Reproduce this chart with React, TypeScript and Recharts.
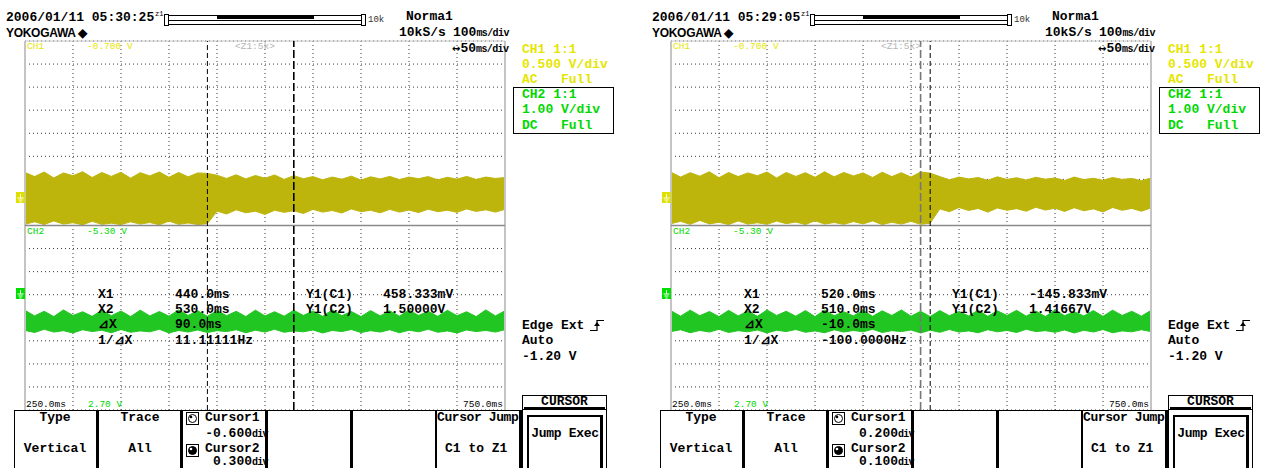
import { ComposedChart, Area, XAxis, YAxis, CartesianGrid, ReferenceLine } from 'recharts'
import type { ReactNode } from 'react'

// time base: 250 ms .. 750 ms, one sample every 10 ms (50 ms/div, 10 div)
const timeMs = [
  250, 260, 270, 280, 290, 300, 310, 320, 330, 340,
  350, 360, 370, 380, 390, 400, 410, 420, 430, 440,
  450, 460, 470, 480, 490, 500, 510, 520, 530, 540,
  550, 560, 570, 580, 590, 600, 610, 620, 630, 640,
  650, 660, 670, 680, 690, 700, 710, 720, 730, 740,
  750,
]
const gridMs = [300, 350, 400, 450, 500, 550, 600, 650, 700]
const gridDiv = [-7, -6, -5, -4, -3, -2, -1, 1, 2, 3, 4, 5, 6, 7]

// trace envelopes in screen divisions (0 = split line, +8 top, -8 bottom)
const leftCh1Hi = [
  2.30, 2.12, 2.32, 2.06, 2.28, 2.16, 2.33, 2.08, 2.30, 2.13,
  2.31, 2.05, 2.29, 2.15, 2.32, 2.09, 2.30, 2.11, 2.28, 2.26,
  2.18, 2.04, 2.20, 2.02, 2.17, 2.05, 2.19, 2.00, 2.16, 2.03,
  2.12, 1.98, 2.10, 2.01, 2.14, 1.97, 2.11, 2.02, 2.13, 1.99,
  2.10, 2.03, 2.12, 1.98, 2.09, 2.01, 2.13, 2.00, 2.10, 2.04,
  2.08,
]
const leftCh1Lo = [
  0.05, 0.16, 0.04, 0.20, 0.06, 0.12, 0.03, 0.18, 0.05, 0.10,
  0.04, 0.16, 0.06, 0.13, 0.03, 0.19, 0.05, 0.11, 0.04, 0.08,
  0.62, 0.50, 0.68, 0.55, 0.62, 0.48, 0.66, 0.57, 0.64, 0.52,
  0.70, 0.58, 0.65, 0.54, 0.72, 0.60, 0.66, 0.55, 0.70, 0.58,
  0.67, 0.56, 0.71, 0.60, 0.66, 0.57, 0.72, 0.61, 0.68, 0.58,
  0.70,
]
const leftCh2Hi = [
  -3.68, -3.92, -3.72, -3.95, -3.66, -3.90, -3.74, -3.94, -3.68, -3.91,
  -3.71, -3.95, -3.67, -3.92, -3.73, -3.93, -3.66, -3.90, -3.70, -3.94,
  -3.69, -3.91, -3.72, -3.95, -3.67, -3.92, -3.74, -3.93, -3.68, -3.90,
  -3.71, -3.94, -3.66, -3.91, -3.73, -3.95, -3.69, -3.92, -3.70, -3.93,
  -3.67, -3.90, -3.72, -3.94, -3.68, -3.91, -3.74, -3.95, -3.66, -3.92,
  -3.70,
]
const leftCh2Lo = [
  -4.55, -4.64, -4.50, -4.62, -4.56, -4.66, -4.52, -4.60, -4.54, -4.65,
  -4.51, -4.63, -4.57, -4.61, -4.50, -4.66, -4.55, -4.62, -4.53, -4.64,
  -4.56, -4.60, -4.52, -4.65, -4.54, -4.62, -4.50, -4.63, -4.57, -4.61,
  -4.53, -4.66, -4.55, -4.60, -4.51, -4.64, -4.56, -4.62, -4.52, -4.65,
  -4.54, -4.61, -4.50, -4.63, -4.57, -4.66, -4.53, -4.60, -4.55, -4.62,
  -4.52,
]
const rightCh1Hi = [
  2.31, 2.10, 2.29, 2.14, 2.33, 2.07, 2.30, 2.12, 2.28, 2.16,
  2.32, 2.06, 2.30, 2.13, 2.29, 2.09, 2.33, 2.11, 2.30, 2.15,
  2.28, 2.08, 2.31, 2.12, 2.29, 2.10, 2.32, 2.27, 2.12, 1.98,
  2.10, 2.02, 2.08, 1.96, 2.11, 2.00, 2.07, 1.97, 2.09, 2.01,
  2.06, 1.95, 2.10, 1.99, 2.05, 1.96, 2.08, 2.00, 2.04, 1.94,
  2.06,
]
const rightCh1Lo = [
  0.08, 0.18, 0.05, 0.22, 0.07, 0.14, 0.04, 0.20, 0.06, 0.12,
  0.05, 0.19, 0.08, 0.15, 0.04, 0.21, 0.06, 0.13, 0.05, 0.17,
  0.07, 0.20, 0.04, 0.14, 0.06, 0.18, 0.05, 0.10, 0.72, 0.60,
  0.78, 0.65, 0.74, 0.58, 0.76, 0.66, 0.73, 0.62, 0.79, 0.67,
  0.75, 0.61, 0.77, 0.64, 0.72, 0.59, 0.78, 0.66, 0.74, 0.62,
  0.76,
]
const rightCh2Hi = [
  -3.70, -3.93, -3.67, -3.91, -3.73, -3.95, -3.68, -3.92, -3.71, -3.94,
  -3.66, -3.90, -3.72, -3.93, -3.69, -3.95, -3.67, -3.91, -3.74, -3.92,
  -3.68, -3.94, -3.70, -3.90, -3.66, -3.93, -3.72, -3.95, -3.69, -3.91,
  -3.73, -3.92, -3.67, -3.94, -3.70, -3.90, -3.68, -3.93, -3.71, -3.95,
  -3.66, -3.91, -3.74, -3.92, -3.69, -3.94, -3.67, -3.90, -3.72, -3.93,
  -3.68,
]
const rightCh2Lo = [
  -4.60, -4.52, -4.65, -4.55, -4.62, -4.50, -4.64, -4.56, -4.61, -4.53,
  -4.66, -4.54, -4.60, -4.51, -4.63, -4.57, -4.65, -4.52, -4.62, -4.55,
  -4.61, -4.50, -4.64, -4.56, -4.60, -4.53, -4.66, -4.54, -4.63, -4.51,
  -4.62, -4.57, -4.65, -4.52, -4.61, -4.55, -4.64, -4.50, -4.60, -4.56,
  -4.63, -4.53, -4.66, -4.54, -4.62, -4.51, -4.65, -4.57, -4.61, -4.52,
  -4.60,
]

// cursor X1, X2 (ms)
const leftCursorsMs = [440, 530]
const rightCursorsMs = [520, 510]

const leftReadout = ['440.0ms', '530.0ms', '90.0ms', '11.11111Hz', '458.333mV', '1.50000V']
const rightReadout = ['520.0ms', '510.0ms', '-10.0ms', '-100.0000Hz', '-145.833mV', '1.41667V']
const leftCursorDiv = ['-0.600', '0.300']
const rightCursorDiv = ['0.200', '0.100']

const mono = '"Liberation Mono", "DejaVu Sans Mono", monospace'
const YEL = '#e6e600'
const GRN = '#00d800'
const BAND1 = '#bdb50c'
const BAND2 = '#22c622'

type TProps = {
  x: number
  y: number
  s?: number
  c?: string
  w?: number
  center?: boolean
  ff?: string
  bold?: boolean
  ls?: number
  children: ReactNode
}

function T({ x, y, s = 13, c = '#000', w, center, ff = mono, bold, ls, children }: TProps) {
  const heavy = bold ?? s >= 12
  return (
    <div
      style={{
        position: 'absolute',
        left: x,
        top: y - s * 0.45,
        width: w,
        textAlign: center ? 'center' : 'left',
        fontSize: s,
        lineHeight: `${s}px`,
        color: c,
        fontFamily: ff,
        fontWeight: heavy ? 'bold' : 'normal',
        letterSpacing: ls,
        whiteSpace: 'pre',
      }}
    >
      {children}
    </div>
  )
}

function Box({ x, y, w, h, bg, border }: { x: number; y: number; w: number; h: number; bg?: string; border?: string }) {
  return (
    <div
      style={{ position: 'absolute', left: x, top: y, width: w, height: h, background: bg, border, boxSizing: 'border-box' }}
    />
  )
}

function CursorIcon({ x, y, filled }: { x: number; y: number; filled?: boolean }) {
  return (
    <svg style={{ position: 'absolute', left: x, top: y }} width={13} height={13}>
      <rect x={0.5} y={0.5} width={12} height={12} fill="#fff" stroke="#000" />
      <circle cx={6.5} cy={6.5} r={4} fill={filled ? '#000' : '#fff'} stroke="#000" />
      <circle cx={5} cy={5} r={1.3} fill={filled ? '#fff' : '#000'} />
    </svg>
  )
}

function Ground({ y, color }: { y: number; color: string }) {
  return (
    <svg style={{ position: 'absolute', left: 16, top: y }} width={9} height={11}>
      <rect width={9} height={11} fill={color} />
      <path d="M4.5 2 V6 M1.5 6 H7.5 M2.5 8 H6.5 M3.5 10 H5.5" stroke="#fff" strokeWidth={1} />
    </svg>
  )
}

function DivValue({ x, y, v }: { x: number; y: number; v: string }) {
  return (
    <div style={{ position: 'absolute', left: x, top: y - 5, fontFamily: mono, fontWeight: 'bold', whiteSpace: 'pre', lineHeight: '11px', height: 11 }}>
      <span style={{ fontSize: 13 }}>{v}</span>
      <span style={{ fontSize: 10, letterSpacing: -0.8 }}>div</span>
    </div>
  )
}

type PanelProps = {
  left: number
  stamp: string
  ch1Hi: number[]
  ch1Lo: number[]
  ch2Hi: number[]
  ch2Lo: number[]
  cursors: number[]
  cursor2Color: string
  readout: string[]
  cursorDiv: string[]
}

function Panel(p: PanelProps) {
  const rows = timeMs.map((t, i) => ({
    t,
    ch1: [p.ch1Lo[i], p.ch1Hi[i]],
    ch2: [p.ch2Lo[i], p.ch2Hi[i]],
  }))
  const divX = (v: string) => 265 - v.length * 7.8 - 13

  return (
    <div style={{ position: 'absolute', left: p.left, top: 0, width: 620, height: 468 }}>
      {/* CH1 bottom-of-range label, hidden behind the trace */}
      <T x={87} y={219} s={9.5} c={YEL}>2.300 V</T>

      <div style={{ position: 'absolute', left: 0, top: 0 }}>
        <ComposedChart width={620} height={468} data={rows} margin={{ top: 41, right: 115, bottom: 58, left: 25 }}>
          <XAxis type="number" dataKey="t" domain={[250, 750]} ticks={gridMs} hide />
          <YAxis type="number" domain={[-8, 8]} ticks={gridDiv} hide />
          <CartesianGrid stroke="#3a3a3a" strokeDasharray="1 3" />
          <ReferenceLine y={8} stroke="#c8c8c8" strokeWidth={1} />
          <ReferenceLine x={250} stroke="#c4c4c4" strokeWidth={2} />
          <ReferenceLine x={750} stroke="#c4c4c4" strokeWidth={2} />
          <Area
            type="linear"
            dataKey="ch1"
            stroke={BAND1}
            strokeWidth={1}
            fill={BAND1}
            fillOpacity={1}
            dot={false}
            activeDot={false}
            isAnimationActive={false}
          />
          <Area
            type="linear"
            dataKey="ch2"
            stroke={BAND2}
            strokeWidth={1}
            fill={BAND2}
            fillOpacity={1}
            dot={false}
            activeDot={false}
            isAnimationActive={false}
          />
          <ReferenceLine y={0} stroke="#8a8a8a" strokeWidth={1.5} />
          <ReferenceLine x={p.cursors[0]} stroke="#000" strokeDasharray="5 3" strokeWidth={1} />
          <ReferenceLine x={p.cursors[1]} stroke={p.cursor2Color} strokeDasharray="8 3" strokeWidth={1.6} />
        </ComposedChart>
      </div>

      {/* header */}
      <T x={6} y={17} s={13}>{p.stamp}</T>
      <T x={155} y={14} s={7}>z1</T>
      <Box x={164} y={14} w={5} h={12} border="1px solid #000" />
      <Box x={168} y={15} w={194} h={10} border="1px solid #000" />
      <Box x={217} y={16} w={97} h={3} bg="#000" />
      <Box x={169} y={20} w={192} h={1} bg="#000" />
      <Box x={361} y={14} w={5} h={12} border="1px solid #000" />
      <T x={368} y={20} s={9} c="#333">10k</T>
      <T x={406} y={16} s={13}>Norma1</T>
      <T x={399} y={32} s={13}>10kS/s</T>
      <div style={{ position: 'absolute', left: 453, top: 26, fontFamily: mono, fontWeight: 'bold', whiteSpace: 'pre', lineHeight: '13px' }}>
        <span style={{ fontSize: 13 }}>100</span>
        <span style={{ fontSize: 10, letterSpacing: -0.6 }}>ms/div</span>
      </div>
      <div style={{ position: 'absolute', left: 452, top: 42, fontFamily: mono, fontWeight: 'bold', whiteSpace: 'pre', lineHeight: '13px' }}>
        <span style={{ fontSize: 10, fontFamily: '"DejaVu Sans", sans-serif' }}>↔</span>
        <span style={{ fontSize: 13 }}>50</span>
        <span style={{ fontSize: 10, letterSpacing: -0.6 }}>ms/div</span>
      </div>
      <T x={6} y={32} s={12} ff='"Liberation Sans", Arial, sans-serif' bold ls={-0.3}>YOKOGAWA ◆</T>

      {/* on-screen labels */}
      <T x={27} y={46} s={9.5} c={YEL}>CH1</T>
      <T x={87} y={46} s={9.5} c={YEL}>-0.700 V</T>
      <T x={235} y={46} s={9.5} c="#b4b4b4">&lt;Z1:5k&gt;</T>
      <T x={27} y={231} s={9.5} c={GRN}>CH2</T>
      <T x={87} y={231} s={9.5} c={GRN}>-5.30 V</T>
      <T x={26} y={404} s={9.5}>250.0ms</T>
      <T x={88} y={404} s={9.5} c={GRN}>2.70 V</T>
      <T x={463} y={404} s={9.5}>750.0ms</T>
      <Ground y={192} color="#e0e000" />
      <Ground y={288} color="#00e000" />

      {/* cursor readout */}
      <T x={98} y={294}>X1</T>
      <T x={175} y={294}>{p.readout[0]}</T>
      <T x={98} y={309}>X2</T>
      <T x={175} y={309}>{p.readout[1]}</T>
      <T x={98} y={324}>⊿X</T>
      <T x={175} y={324}>{p.readout[2]}</T>
      <T x={98} y={340}>1/⊿X</T>
      <T x={175} y={340}>{p.readout[3]}</T>
      <T x={306} y={294}>Y1(C1)</T>
      <T x={383} y={294}>{p.readout[4]}</T>
      <T x={306} y={309}>Y1(C2)</T>
      <T x={383} y={309}>{p.readout[5]}</T>

      {/* channel setup */}
      <T x={522} y={49} c={YEL}>CH1 1:1</T>
      <T x={522} y={64} c={YEL}>0.500 V/div</T>
      <T x={522} y={79} c={YEL}>AC   Full</T>
      <Box x={513} y={87} w={101} h={47} border="1px solid #000" />
      <T x={522} y={94} c={GRN}>CH2 1:1</T>
      <T x={522} y={109} c={GRN}>1.00 V/div</T>
      <T x={522} y={125} c={GRN}>DC   Full</T>

      {/* trigger */}
      <T x={522} y={325}>Edge Ext</T>
      <svg style={{ position: 'absolute', left: 589, top: 318 }} width={16} height={14}>
        <path d="M1 12.5 H8 V2.5 H15" stroke="#000" fill="none" strokeWidth={1.2} />
        <path d="M5 8 L8 4 L11 8 Z" fill="#000" />
      </svg>
      <T x={522} y={340}>Auto</T>
      <T x={522} y={356}>-1.20 V</T>

      {/* soft-key menu */}
      <Box x={14} y={410} w={507} h={1} bg="#000" />
      <Box x={14} y={410} w={1} h={58} bg="#000" />
      <T x={14} y={417} w={82} center>Type</T>
      <T x={14} y={448} w={82} center>Vertical</T>
      <T x={99} y={417} w={82} center>Trace</T>
      <T x={99} y={448} w={82} center>All</T>
      <CursorIcon x={186} y={412} />
      <CursorIcon x={186} y={444} filled />
      <T x={205} y={417}>Cursor1</T>
      <T x={205} y={448}>Cursor2</T>
      <DivValue x={divX(p.cursorDiv[0])} y={433} v={p.cursorDiv[0]} />
      <DivValue x={divX(p.cursorDiv[1])} y={461} v={p.cursorDiv[1]} />
      <T x={437} y={417} ls={-0.4}>Cursor Jump</T>
      <T x={445} y={448}>C1 to Z1</T>
      <Box x={96} y={410} w={3} h={58} bg="#000" />
      <Box x={180} y={410} w={3} h={58} bg="#000" />
      <Box x={265} y={410} w={3} h={58} bg="#000" />
      <Box x={350} y={410} w={3} h={58} bg="#000" />
      <Box x={435} y={410} w={2} h={58} bg="#000" />
      <Box x={519} y={410} w={3} h={58} bg="#000" />

      {/* CURSOR tab and Jump Exec key */}
      <Box x={522} y={395} w={85} h={15} border="1px solid #000" bg="#fff" />
      <Box x={524} y={407} w={81} h={2} bg="#000" />
      <T x={522} y={401} w={85} center>CURSOR</T>
      <Box x={522} y={409} w={1} h={59} bg="#000" />
      <Box x={606} y={409} w={1} h={59} bg="#000" />
      <div
        style={{
          position: 'absolute',
          left: 527,
          top: 415,
          width: 76,
          height: 60,
          borderTop: '2px solid #000',
          borderLeft: '2px solid #000',
          borderRight: '3px solid #000',
          boxSizing: 'border-box',
        }}
      />
      <T x={527} y={433} w={76} center ls={-0.3}>Jump Exec</T>
    </div>
  )
}

export default function App() {
  return (
    <div style={{ position: 'absolute', left: 0, top: 0, width: 1266, height: 468, background: '#fff', overflow: 'hidden' }}>
      <Panel
        left={0}
        stamp="2006/01/11 05:30:25"
        ch1Hi={leftCh1Hi}
        ch1Lo={leftCh1Lo}
        ch2Hi={leftCh2Hi}
        ch2Lo={leftCh2Lo}
        cursors={leftCursorsMs}
        cursor2Color="#000"
        readout={leftReadout}
        cursorDiv={leftCursorDiv}
      />
      <Panel
        left={646}
        stamp="2006/01/11 05:29:05"
        ch1Hi={rightCh1Hi}
        ch1Lo={rightCh1Lo}
        ch2Hi={rightCh2Hi}
        ch2Lo={rightCh2Lo}
        cursors={rightCursorsMs}
        cursor2Color="#777"
        readout={rightReadout}
        cursorDiv={rightCursorDiv}
      />
    </div>
  )
}
